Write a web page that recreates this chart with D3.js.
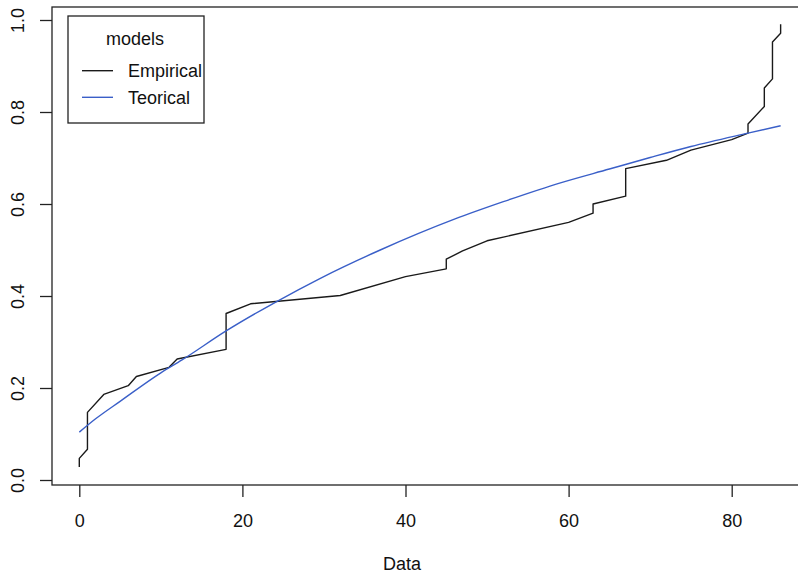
<!DOCTYPE html>
<html>
<head>
<meta charset="utf-8">
<script src="https://cdn.jsdelivr.net/npm/d3@7"></script>
<style>
  body { margin: 0; background: #fff; }
  svg { display: block; font-family: "Liberation Sans", Arial, sans-serif; }
</style>
</head>
<body>
<div id="chart"></div>
<script>
// empirical step curve
var empX = [0, 0, 1, 1, 3, 6, 7, 11, 12, 18, 18, 21, 32, 40, 45, 45, 47, 50, 60, 63, 63, 67, 67, 72, 75, 80, 82, 82, 84, 84, 85, 85, 86, 86]
var empY = [0.028, 0.047, 0.067, 0.147, 0.186, 0.205, 0.225, 0.245, 0.263, 0.284, 0.362, 0.383, 0.401, 0.442, 0.459, 0.480, 0.498, 0.520, 0.560, 0.580, 0.600, 0.617, 0.677, 0.695, 0.717, 0.740, 0.754, 0.774, 0.812, 0.852, 0.872, 0.952, 0.971, 0.991]

// theoretical curve
var teoX = [0, 2, 5, 10, 12.6, 18, 24.2, 29.5, 36.9, 46, 52, 59, 65, 70, 75, 82, 86]
var teoY = [0.104, 0.133, 0.171, 0.233, 0.261, 0.324, 0.388, 0.438, 0.500, 0.567, 0.605, 0.646, 0.676, 0.701, 0.725, 0.754, 0.770]

var xTicks = [0, 20, 40, 60, 80]
var yTicks = [0, 0.2, 0.4, 0.6, 0.8, 1]

var legendNames = ["Empirical", "Teorical"]
var legendColors = ["#1a1a1a", "#3a5fc8"]

var width = 798
var height = 575
var fontSize = 18

// plot region (the right border falls outside the picture)
var plotLeft = 52, plotTop = 7, plotBottom = 485, plotRight = 812

var x = d3.scaleLinear().domain([0, 80]).range([79.3, 731.7])
var y = d3.scaleLinear().domain([0, 1]).range([480, 20])

var svg = d3.select('#chart').append('svg')
  .attr('width', width).attr('height', height)

svg.append('clipPath').attr('id', 'clip')
  .append('rect')
  .attr('x', plotLeft).attr('y', plotTop)
  .attr('width', plotRight - plotLeft).attr('height', plotBottom - plotTop)

var line = d3.line()
  .x(function(d) { return x(d[0]) })
  .y(function(d) { return y(d[1]) })

var plot = svg.append('g').attr('clip-path', 'url(#clip)')

plot.append('path')
  .datum(empX.map(function(v, i) { return [v, empY[i]] }))
  .attr('d', line)
  .attr('fill', 'none')
  .attr('stroke', legendColors[0])
  .attr('stroke-width', 1.4)
  .attr('stroke-linejoin', 'round')

plot.append('path')
  .datum(teoX.map(function(v, i) { return [v, teoY[i]] }))
  .attr('d', line.curve(d3.curveMonotoneX))
  .attr('fill', 'none')
  .attr('stroke', legendColors[1])
  .attr('stroke-width', 1.4)

// axes
var xAxis = svg.append('g')
  .attr('transform', 'translate(0,' + plotBottom + ')')
  .call(d3.axisBottom(x).tickValues(xTicks).tickSize(12).tickPadding(0).tickFormat(d3.format('d')))
xAxis.select('.domain').remove()
xAxis.selectAll('line').attr('stroke', '#222').attr('stroke-width', 1.3)
xAxis.selectAll('text')
  .attr('y', 42).attr('dy', null)
  .attr('font-size', fontSize).attr('fill', '#111')
  .style('font-family', '"Liberation Sans", Arial, sans-serif')

var yAxis = svg.append('g')
  .attr('transform', 'translate(' + plotLeft + ',0)')
  .call(d3.axisLeft(y).tickValues(yTicks).tickSize(12).tickFormat(d3.format('.1f')))
yAxis.select('.domain').remove()
yAxis.selectAll('line').attr('stroke', '#222').attr('stroke-width', 1.3)
yAxis.selectAll('text')
  .attr('x', null).attr('dy', null)
  .attr('transform', 'translate(-28,0) rotate(-90)')
  .attr('text-anchor', 'middle')
  .attr('font-size', fontSize).attr('fill', '#111')
  .style('font-family', '"Liberation Sans", Arial, sans-serif')

svg.append('rect')
  .attr('x', plotLeft).attr('y', plotTop)
  .attr('width', plotRight - plotLeft).attr('height', plotBottom - plotTop)
  .attr('fill', 'none').attr('stroke', '#222').attr('stroke-width', 1.3)

svg.append('text')
  .attr('x', 402).attr('y', 570)
  .attr('text-anchor', 'middle')
  .attr('font-size', fontSize).attr('fill', '#111')
  .text('Data')

// legend
var legend = svg.append('g')
legend.append('rect')
  .attr('x', 68).attr('y', 16).attr('width', 136).attr('height', 107)
  .attr('fill', '#fff').attr('stroke', '#222').attr('stroke-width', 1.3)
legend.append('text')
  .attr('x', 135).attr('y', 45)
  .attr('text-anchor', 'middle')
  .attr('font-size', fontSize).attr('fill', '#111')
  .text('models')

var rows = legend.selectAll('g.row')
  .data(legendNames)
  .enter().append('g')
  .attr('class', 'row')
  .attr('transform', function(d, i) { return 'translate(0,' + (70.7 + i * 26.6) + ')' })
rows.append('line')
  .attr('x1', 82).attr('x2', 113)
  .attr('stroke', function(d, i) { return legendColors[i] })
  .attr('stroke-width', 1.4)
rows.append('text')
  .attr('x', 128).attr('y', 6.5)
  .attr('font-size', fontSize).attr('fill', '#111')
  .text(function(d) { return d })
</script>
</body>
</html>
